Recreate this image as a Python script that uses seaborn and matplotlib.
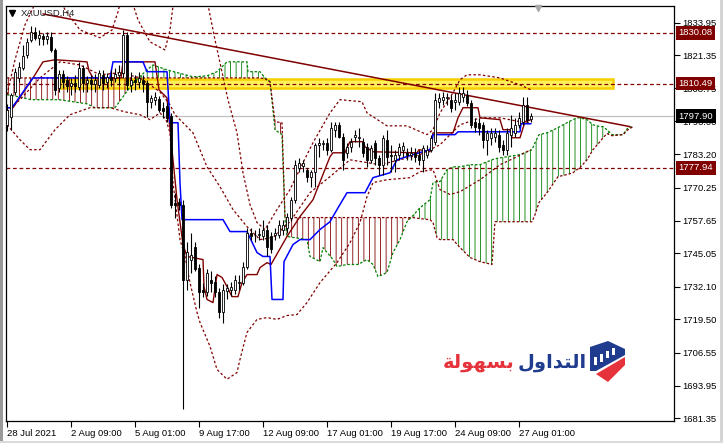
import numpy as np
import matplotlib
matplotlib.use("Agg")
import matplotlib.pyplot as plt
from matplotlib.patches import Rectangle, Polygon
import seaborn as sns

# XAUUSD H4 candles, bar 0 = 28 Jul 2021
opens = [1794.6, 1797.7, 1807.4, 1812.7, 1816.6, 1821.6, 1827.4, 1830.5, 1828.2, 1828.9,
         1827.8, 1828.5, 1823.5, 1808.9, 1814.3, 1812.0, 1809.7, 1810.8, 1809.3, 1816.6,
         1810.8, 1812.0, 1810.4, 1810.0, 1813.9, 1811.2, 1813.1, 1812.7, 1813.9, 1814.7,
         1829.3, 1810.0, 1812.0, 1811.2, 1812.0, 1810.8, 1803.5, 1804.3, 1804.7, 1801.2,
         1801.9, 1798.1, 1764.6, 1765.0, 1763.8, 1734.9, 1742.6, 1747.6, 1739.5, 1731.0,
         1729.9, 1734.9, 1734.1, 1729.9, 1722.2, 1730.3, 1731.0, 1731.0, 1733.7, 1733.7,
         1739.9, 1753.0, 1751.9, 1751.9, 1751.5, 1754.2, 1751.5, 1752.2, 1752.2, 1754.2,
         1754.9, 1758.8, 1765.7, 1778.1, 1778.8, 1777.3, 1774.6, 1776.5, 1786.9, 1787.3,
         1787.7, 1785.0, 1792.7, 1794.6, 1790.0, 1783.8, 1786.1, 1790.0, 1789.6, 1788.1,
         1786.1, 1781.1, 1787.7, 1781.9, 1779.2, 1788.8, 1783.1, 1781.1, 1783.1, 1785.0,
         1783.8, 1783.1, 1783.8, 1783.1, 1781.1, 1783.1, 1785.0, 1788.1, 1803.5, 1804.3,
         1805.0, 1804.3, 1803.5, 1803.5, 1805.4, 1806.2, 1803.1, 1795.8, 1795.4, 1794.6,
         1788.8, 1789.6, 1790.0, 1790.8, 1786.9, 1785.0, 1790.8, 1791.5, 1794.6, 1795.8,
         1802.3, 1797.0]
highs = [1802.7, 1807.0, 1816.6, 1818.9, 1825.5, 1828.2, 1832.8, 1832.4, 1831.2, 1830.1,
         1830.5, 1830.5, 1824.3, 1815.8, 1815.8, 1813.5, 1812.7, 1813.9, 1818.9, 1817.8,
         1813.5, 1813.9, 1814.3, 1815.8, 1815.8, 1814.7, 1815.8, 1816.6, 1817.8, 1831.2,
         1830.5, 1815.1, 1813.9, 1815.1, 1813.9, 1812.0, 1806.2, 1807.4, 1805.8, 1803.5,
         1803.1, 1799.2, 1768.4, 1766.5, 1765.7, 1749.5, 1753.0, 1749.2, 1740.7, 1733.7,
         1738.8, 1738.0, 1736.4, 1731.8, 1733.0, 1733.3, 1734.1, 1736.8, 1736.8, 1741.5,
         1754.9, 1754.9, 1754.2, 1754.9, 1758.0, 1756.1, 1753.4, 1754.9, 1758.0, 1758.0,
         1760.7, 1766.9, 1781.1, 1781.9, 1781.1, 1778.1, 1777.3, 1787.7, 1789.6, 1788.8,
         1789.6, 1795.8, 1795.8, 1795.8, 1791.5, 1787.7, 1789.6, 1792.7, 1793.5, 1789.6,
         1787.7, 1786.9, 1788.8, 1783.1, 1790.8, 1792.7, 1786.9, 1785.0, 1787.7, 1788.1,
         1785.8, 1786.1, 1785.8, 1785.0, 1786.9, 1786.9, 1790.8, 1807.0, 1807.0, 1807.4,
         1807.0, 1806.2, 1807.0, 1809.3, 1809.3, 1808.1, 1804.3, 1797.3, 1797.3, 1795.8,
         1792.7, 1793.5, 1793.5, 1792.7, 1788.8, 1793.5, 1798.5, 1797.3, 1799.6, 1805.4,
         1805.4, 1799.2]
lows = [1792.3, 1792.7, 1806.2, 1811.2, 1815.8, 1820.5, 1826.6, 1827.4, 1825.5, 1825.5,
        1825.9, 1822.8, 1806.2, 1807.4, 1808.9, 1807.4, 1806.2, 1807.4, 1808.1, 1807.4,
        1807.4, 1808.1, 1807.4, 1808.9, 1808.1, 1808.9, 1809.7, 1811.2, 1810.0, 1812.7,
        1808.1, 1807.4, 1808.1, 1808.9, 1807.4, 1797.7, 1801.2, 1802.3, 1799.6, 1797.3,
        1795.8, 1762.6, 1758.8, 1761.9, 1684.8, 1731.0, 1737.6, 1738.0, 1724.1, 1728.0,
        1728.7, 1729.9, 1728.0, 1720.2, 1718.3, 1727.2, 1728.7, 1729.5, 1731.0, 1732.6,
        1738.8, 1750.3, 1749.5, 1750.3, 1750.3, 1743.8, 1745.3, 1750.3, 1751.1, 1752.2,
        1753.0, 1757.3, 1764.6, 1776.5, 1776.5, 1772.7, 1770.7, 1770.7, 1782.3, 1785.0,
        1783.1, 1784.2, 1790.0, 1789.6, 1777.3, 1781.9, 1784.2, 1788.1, 1786.1, 1782.3,
        1778.5, 1780.0, 1779.2, 1775.4, 1775.4, 1779.2, 1776.5, 1776.5, 1781.1, 1782.3,
        1781.1, 1781.1, 1780.4, 1779.2, 1776.5, 1781.9, 1784.2, 1786.9, 1801.2, 1802.3,
        1802.3, 1799.6, 1800.4, 1802.3, 1803.5, 1801.9, 1793.5, 1791.9, 1790.8, 1785.8,
        1783.1, 1786.9, 1788.1, 1784.2, 1783.1, 1783.1, 1786.1, 1790.0, 1793.5, 1794.6,
        1795.8, 1795.8]
closes = [1800.4, 1806.2, 1815.1, 1817.0, 1821.2, 1826.6, 1830.5, 1828.2, 1829.3, 1827.8,
          1828.9, 1823.5, 1808.1, 1814.3, 1811.2, 1809.7, 1810.8, 1809.7, 1816.6, 1810.8,
          1812.0, 1810.4, 1812.0, 1814.7, 1810.8, 1813.1, 1812.0, 1814.3, 1815.1, 1829.3,
          1810.0, 1812.0, 1811.2, 1812.7, 1810.4, 1803.5, 1805.0, 1805.4, 1800.4, 1800.0,
          1797.3, 1763.8, 1763.8, 1763.8, 1734.9, 1745.7, 1744.5, 1738.8, 1729.9, 1729.9,
          1737.6, 1733.7, 1729.9, 1722.2, 1731.0, 1731.8, 1732.2, 1734.9, 1734.1, 1739.9,
          1753.0, 1751.5, 1752.2, 1752.6, 1754.2, 1747.6, 1746.5, 1753.0, 1756.1, 1756.1,
          1759.2, 1765.7, 1779.2, 1780.0, 1780.0, 1774.6, 1776.5, 1786.9, 1787.7, 1787.7,
          1785.0, 1793.5, 1794.6, 1790.0, 1781.1, 1786.1, 1788.1, 1790.8, 1790.0, 1783.8,
          1781.1, 1785.8, 1781.9, 1779.2, 1789.6, 1782.3, 1782.7, 1783.1, 1786.1, 1786.5,
          1783.1, 1783.8, 1782.3, 1781.1, 1785.8, 1785.0, 1789.6, 1804.3, 1805.0, 1805.4,
          1805.4, 1801.2, 1804.3, 1807.0, 1807.0, 1803.1, 1794.6, 1793.9, 1793.5, 1788.8,
          1791.5, 1791.5, 1791.5, 1786.1, 1785.0, 1791.5, 1793.5, 1794.6, 1797.3, 1802.3,
          1796.6, 1797.9]

# Ichimoku lines (bar index, price)
tenkan_bars = [0, 1.5, 6.5, 9, 12, 20, 20.5, 21.5, 28.5, 29, 37, 38, 40, 41, 42.5, 44, 45, 49,
               49.25, 50, 51.5, 52.5, 53.75, 55, 56.25, 57.75, 58.75, 60, 62.5, 63.25, 65, 66,
               70, 73.25, 76.5, 80.75, 81.5, 84.5, 85, 85.75, 89, 89.5, 91.5, 102.5, 103,
               105.75, 106.5, 111.5, 112.75, 114, 117.75, 118.25, 123.25, 124, 125.75, 126.25,
               128.25, 129.5, 131]
tenkan = [1801.2, 1801.2, 1812.7, 1818.9, 1819.7, 1818.9, 1815.4, 1812.7, 1812.7, 1818.9,
          1818.9, 1808.1, 1805.0, 1788.8, 1765.7, 1748.4, 1743.8, 1742.6, 1732.2, 1727.2,
          1726.0, 1736.8, 1735.7, 1732.2, 1728.3, 1728.3, 1733.7, 1736.8, 1736.8, 1739.5,
          1741.4, 1740.7, 1751.5, 1759.2, 1765.7, 1782.3, 1783.8, 1783.8, 1785.8, 1788.1,
          1788.1, 1786.1, 1784.2, 1783.8, 1785.0, 1784.2, 1791.5, 1791.5, 1797.3, 1801.2,
          1801.2, 1797.3, 1796.6, 1792.7, 1792.7, 1789.6, 1789.6, 1795.8, 1796.6]
kijun_bars = [0, 1.25, 6.5, 25.75, 26.5, 34, 35, 40, 40.75, 42.75, 43.25, 43.75, 54, 55.75, 60,
              62.5, 64, 65.75, 66.25, 69, 69.25, 71.5, 73.25, 75.75, 78.25, 80.75, 82.5, 85,
              89.5, 91.5, 95.75, 97.5, 101.5, 105.75, 106.25, 106.5, 112, 112.75, 128.25,
              128.5, 131]
kijun = [1801.2, 1801.2, 1812.7, 1812.7, 1818.9, 1818.9, 1815.1, 1815.1, 1795.4, 1795.4,
         1772.3, 1758.0, 1758.0, 1753.4, 1753.4, 1745.3, 1743.8, 1743.8, 1727.2, 1727.2,
         1741.8, 1748.4, 1750.3, 1750.3, 1754.2, 1757.2, 1761.9, 1768.4, 1768.4, 1774.2,
         1776.1, 1781.1, 1783.1, 1785.0, 1787.7, 1790.8, 1790.8, 1791.9, 1791.9, 1795.0,
         1795.0]

# Senkou spans (already shifted 26 bars ahead)
cloud_bars = [0, 3, 6, 13, 20, 22, 27, 29, 31.5, 34, 35, 36.5, 40, 46.5, 50, 52.5, 55, 60, 60.25,
              63.25, 64.5, 65.75, 67, 68.75, 69.5, 70, 75, 75.75, 78.25, 79, 81.5, 82.5, 85,
              87.75, 90, 91.5, 92.75, 95, 96.5, 98.25, 100, 101.5, 103.25, 105.75, 106.5,
              107.5, 108.25, 110, 111.5, 113.25, 115.75, 118.25, 121.25, 122, 128.25, 131.25,
              132, 133, 135, 137.75, 140, 141.5, 142.5, 143.25, 145, 146.5, 148.25, 149, 150,
              151.25, 154, 155.25, 156.5]
span_a = [1806.2, 1805.4, 1804.3, 1804.3, 1802.7, 1801.2, 1801.2, 1805.4, 1810.8, 1814.3,
          1815.8, 1817.7, 1815.8, 1813.1, 1813.5, 1815.1, 1818.9, 1818.9, 1815.1, 1815.1,
          1812.7, 1811.2, 1792.7, 1790.8, 1758.0, 1751.5, 1750.3, 1743.8, 1741.8, 1747.2,
          1742.6, 1739.9, 1740.7, 1740.7, 1742.6, 1740.7, 1736.0, 1737.6, 1745.3, 1750.3,
          1757.2, 1759.6, 1762.6, 1765.7, 1772.3, 1772.7, 1772.7, 1777.3, 1778.4, 1778.4,
          1779.2, 1779.2, 1781.1, 1781.5, 1783.1, 1785.0, 1787.7, 1790.8, 1791.5, 1793.5,
          1795.4, 1796.6, 1797.3, 1797.3, 1796.6, 1794.6, 1793.9, 1793.9, 1792.7, 1790.8,
          1790.8, 1793.5, 1793.9]
span_b = ([1812.7] * 20 + [1812.4, 1811.2, 1795.8, 1795.4] + [1758.8] * 18 +
          [1758.4, 1758.0, 1756.9, 1751.1, 1750.3, 1750.3, 1750.3, 1747.2, 1743.4, 1741.8,
           1740.7, 1757.2, 1757.2, 1757.2, 1759.9, 1764.6, 1768.4, 1774.6, 1775.4, 1776.1,
           1777.3, 1778.1, 1781.1, 1785.0, 1788.1, 1789.6, 1791.2, 1790.4, 1790.8, 1792.7,
           1793.9])

# Bollinger bands
upper_bars = [0, 2, 4.5, 6.5, 8.25, 12, 14.5, 18.25, 23.25, 26.25, 27.75, 28.75, 30.75, 32.75,
              35.75, 39.5, 40.75, 42, 49.5, 52, 55.25, 57.5, 59, 60.75, 62.5, 64.5, 67.5,
              70.75, 74, 76.5, 80.75, 83.25, 88.75, 90, 95, 100, 105, 106.5, 108.25, 111.5,
              113.25, 115, 118.25, 123.25, 128.25, 131]
upper_band = [1806.2, 1819.7, 1833.2, 1839.7, 1846.7, 1846.7, 1839.0, 1831.2, 1828.2, 1831.2,
              1838.2, 1844.7, 1844.7, 1835.1, 1826.6, 1823.5, 1831.2, 1846.7, 1846.7, 1827.4,
              1804.3, 1791.5, 1776.1, 1763.8, 1756.9, 1754.2, 1761.9, 1769.6, 1780.0, 1787.7,
              1799.2, 1804.3, 1803.5, 1799.2, 1794.2, 1794.2, 1790.8, 1792.7, 1799.2, 1807.0,
              1812.0, 1813.9, 1813.9, 1812.7, 1810.0, 1808.1]
mid_bars = [0, 3.25, 8.25, 13.25, 18.25, 23.25, 28.25, 33.25, 38.25, 40.75, 42, 46.5, 50,
            53.25, 56.5, 60, 63.25, 66.5, 70.75, 75.75, 80.75, 85.75, 93.25, 98.25, 103.25,
            108.25, 113.25, 118.25, 123.25, 128.25, 131]
mid_band = [1799.6, 1804.3, 1812.7, 1818.9, 1817.7, 1813.9, 1814.7, 1812.7, 1807.3, 1802.3,
            1798.5, 1791.5, 1778.4, 1770.7, 1761.9, 1755.3, 1750.3, 1751.1, 1757.2, 1768.4,
            1774.6, 1781.1, 1779.2, 1781.1, 1783.1, 1786.9, 1794.6, 1797.3, 1797.3, 1795.8,
            1795.4]
lower_bars = [0, 3.25, 5.75, 8.25, 12, 15.75, 20.75, 25.75, 29.5, 33.25, 35.75, 38.25, 39.75,
              40.75, 41.5, 43.25, 44.5, 45.75, 47.5, 48.25, 50.75, 52.5, 55, 57.5, 58.25, 60,
              62.5, 65, 67.5, 70, 72.5, 75, 78.25, 82.5, 85.75, 88.25, 90, 91.5, 95, 100.75,
              103.25, 106.5, 108.25, 110.75, 113.25, 118.25, 123.25, 127, 131]
lower_band = [1794.6, 1788.8, 1785.0, 1785.0, 1792.7, 1798.5, 1801.2, 1801.2, 1799.6, 1798.5,
              1796.6, 1799.2, 1796.6, 1791.5, 1772.3, 1750.3, 1743.8, 1733.7, 1722.2, 1718.3,
              1709.1, 1700.2, 1696.4, 1699.0, 1704.1, 1714.5, 1719.5, 1720.2, 1719.5, 1721.0,
              1721.4, 1726.0, 1733.7, 1741.4, 1749.1, 1756.9, 1766.9, 1772.3, 1773.4, 1774.2,
              1776.5, 1777.3, 1769.6, 1767.7, 1768.8, 1773.4, 1779.2, 1781.9, 1785.0]

# drawn objects
trend_bars = [9, 155.75]
trend_prices = [1837.4, 1793.9]
levels = [1830.08, 1810.49, 1777.94]
last_price = 1797.90
zone_bars = (13.25, 151.5)
zone_prices = (1808.9, 1812.4)

ytick_values = [1833.95, 1821.35, 1808.75, 1796.00, 1783.20, 1770.25, 1757.65, 1745.05,
                1732.10, 1719.50, 1706.55, 1693.95, 1681.35]
xtick_bars = [0, 16, 32, 48, 64, 80, 96, 112, 128]
xtick_labels = ["28 Jul 2021", "2 Aug 09:00", "5 Aug 01:00", "9 Aug 17:00", "12 Aug 09:00",
                "17 Aug 01:00", "19 Aug 17:00", "24 Aug 09:00", "27 Aug 01:00"]

MAROON = '#800000'
GREEN = '#008000'
BLUE = '#0000FF'

sns.set_style("white")
plt.rcParams['font.family'] = ['Liberation Sans', 'DejaVu Sans']
plt.rcParams['hatch.linewidth'] = 0.6

W, H = 723, 443
fig = plt.figure(figsize=(W / 100, H / 100), dpi=100, facecolor='white')
ax = fig.add_axes([6 / W, 1 - 421 / H, 668 / W, 415 / H])
ax.set_facecolor('white')


def draw_line(x, y, color, lw=0.9, ls='-', z=3):
    sns.lineplot(x=x, y=y, ax=ax, color=color, linewidth=lw, linestyle=ls,
                 sort=False, estimator=None, zorder=z, legend=False)


# support / resistance zone
ax.add_patch(Rectangle((zone_bars[0], zone_prices[0]), zone_bars[1] - zone_bars[0],
                       zone_prices[1] - zone_prices[0], facecolor='#FFF15A',
                       edgecolor='#F7CF00', linewidth=1.8, zorder=1))

# cloud
cb = np.array(cloud_bars)
sa = np.array(span_a)
sb = np.array(span_b)
ax.fill_between(cb, sa, sb, where=sa >= sb, interpolate=True, facecolor='none',
                edgecolor=GREEN, hatch='|||', linewidth=0, zorder=1.5)
ax.fill_between(cb, sa, sb, where=sa < sb, interpolate=True, facecolor='none',
                edgecolor=MAROON, hatch='|||', linewidth=0, zorder=1.5)
draw_line(cloud_bars, span_a, GREEN, lw=0.9, ls=(0, (2, 1.5)), z=2)
draw_line(cloud_bars, span_b, MAROON, lw=0.9, ls=(0, (2, 1.5)), z=2)

# horizontal levels and current price
for lvl in levels:
    ax.axhline(lvl, color=MAROON, lw=0.9, ls=(0, (3, 2.2)), zorder=2)
ax.axhline(last_price, color='#C0C0C0', lw=0.9, zorder=1.8)

# bollinger bands
for bx, by in [(upper_bars, upper_band), (mid_bars, mid_band), (lower_bars, lower_band)]:
    draw_line(bx, by, MAROON, lw=0.9, ls=(0, (2, 1.8)), z=2.5)

# tenkan / kijun
draw_line(tenkan_bars, tenkan, MAROON, lw=1.0, z=3)
draw_line(kijun_bars, kijun, BLUE, lw=1.1, z=3)

# trend line
draw_line(trend_bars, trend_prices, MAROON, lw=1.1, z=3)

# candles
o = np.array(opens)
c = np.array(closes)
bars = np.arange(len(c))
ax.vlines(bars, lows, highs, color='black', lw=0.8, zorder=4)
body_lo = np.minimum(o, c)
body_h = np.maximum(np.abs(c - o), 0.25)
ax.bar(bars, body_h, bottom=body_lo, width=0.7,
       color=np.where(c >= o, 'white', 'black'), edgecolor='black', linewidth=0.6, zorder=5)

ax.set_xlim(-0.25, 166.75)
ax.set_ylim(1680.3, 1840.45)

# axes look of the terminal
for sp in ax.spines.values():
    sp.set_color('black')
    sp.set_linewidth(0.9)
    sp.set_visible(True)
ax.yaxis.tick_right()
ax.set_yticks(ytick_values)
ax.set_yticklabels([f'{v:.2f}' for v in ytick_values])
ax.tick_params(axis='y', right=True, left=False, length=4, width=0.8, pad=2,
               labelsize=6.8, colors='black')
ax.set_xticks(xtick_bars)
ax.set_xticklabels(xtick_labels)
ax.tick_params(axis='x', bottom=True, length=4, width=0.8, pad=2, labelsize=6.8,
               colors='black')
for lab in ax.get_xticklabels():
    lab.set_horizontalalignment('left')
ax.set_xlabel('')
ax.set_ylabel('')

# price tags on the scale (they sit over the scale labels, as in the terminal)
for lvl, fc in [(1830.08, MAROON), (1810.49, MAROON), (1777.94, MAROON), (last_price, 'black')]:
    ax.text(1.007, lvl, f'{lvl:.2f}', transform=ax.get_yaxis_transform(), ha='left',
            va='center', color='white', fontsize=6.8, clip_on=False, zorder=10,
            bbox=dict(boxstyle='square,pad=0.25', fc=fc, ec='none'))

# symbol label
ax.plot([0.009], [0.983], marker='v', ms=4, color='black', transform=ax.transAxes,
        clip_on=False, zorder=10)
ax.text(0.0225, 0.983, 'XAUUSD,H4', transform=ax.transAxes, fontsize=6.8, va='center',
        ha='left', color='#222222', zorder=10)
ax.plot([0.796], [0.995], marker='v', ms=5, color='#A8A8A8', transform=ax.transAxes,
        clip_on=False, zorder=10)

# window edges
fig.add_artist(Rectangle((0, 0), 3 / W, 1, transform=fig.transFigure,
                         facecolor='#9A9A9A', edgecolor='none'))
fig.add_artist(Rectangle((720 / W, 0), 3 / W, 1, transform=fig.transFigure,
                         facecolor='#D4D4D4', edgecolor='none'))
fig.add_artist(Rectangle((0, 0), 1, 2 / H, transform=fig.transFigure,
                         facecolor='#DADADA', edgecolor='none'))

# watermark logo: Arabic words in presentation forms, laid out in visual order
word_blue = '\uFEDD\uFEED\uFE8D\uFEAA\uFE98\uFEDF\uFE8D'   # التداول
word_red = '\uFE94\uFEDF\uFEEE\uFEEC\uFEB4\uFE91'          # بسهولة
fig.text(587 / W, 1 - 368 / H, word_blue, color='#1F3C8F', fontsize=14, fontweight='bold',
         family=['DejaVu Sans'], ha='right', va='baseline')
fig.text(514 / W, 1 - 368 / H, word_red, color='#E5323B', fontsize=14, fontweight='bold',
         family=['DejaVu Sans'], ha='right', va='baseline')

logo = fig.add_axes([590 / W, 1 - 382 / H, 35 / W, 42 / H])
logo.set_xlim(0, 35)
logo.set_ylim(42, 0)
logo.axis('off')
logo.add_patch(Polygon([(0, 7), (18, 1), (35, 9), (35, 15), (6, 31), (0, 31)],
                       closed=True, fc='#1F3C8F', ec='none'))
logo.add_patch(Polygon([(6, 34), (35, 17), (35, 25), (18, 42)], closed=True,
                       fc='#E5323B', ec='none'))
for bx, top in [(4, 17), (10, 14), (16, 11), (22, 8)]:
    logo.add_patch(Rectangle((bx, top), 3, 27 - top - bx * 0.55, fc='white', ec='none'))

fig.savefig('out.png', dpi=100, facecolor='white')
